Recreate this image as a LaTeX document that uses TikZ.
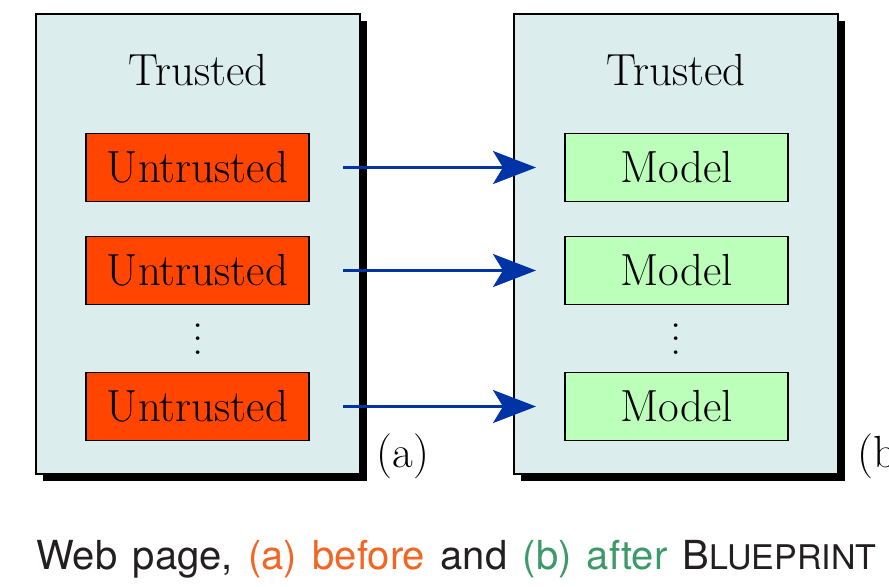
\documentclass[tikz,border=0pt]{standalone}
\usepackage{fontspec}
\newfontfamily\capfont{TeX Gyre Heros}
\usetikzlibrary{arrows.meta}
\definecolor{zoneblue}{RGB}{220,237,237}
\definecolor{untrustfill}{RGB}{255,69,0}
\definecolor{modelfill}{RGB}{187,255,187}
\definecolor{flowblue}{RGB}{0,51,165}
\definecolor{capgray}{RGB}{35,31,32}
\definecolor{caporange}{RGB}{242,101,34}
\definecolor{capgreen}{RGB}{60,154,106}
% vertical ellipsis with wider dot spacing
\newcommand{\tallvdots}{\vbox{\baselineskip=6.8pt\lineskiplimit=0pt\hbox{.}\hbox{.}\hbox{.}}}
\tikzset{
  zone/.style={draw=black, line width=0.8pt, fill=zoneblue},
  zoneshadow/.style={fill=black},
  innerbox/.style={draw=black, line width=0.8pt, minimum width=111.5pt, minimum height=34pt,
    inner sep=0pt, font=\fontsize{22.5}{27}\selectfont},
  untrusted/.style={innerbox, fill=untrustfill},
  modelbox/.style={innerbox, fill=modelfill},
  lbl/.style={font=\fontsize{22.5}{27}\selectfont, inner sep=0pt},
  flow/.style={draw=flowblue, line width=1.5pt, -{Stealth[length=21.5pt, width=16.5pt, inset=5pt]}}
}
\begin{document}
\begin{tikzpicture}[x=0.5pt, y=-0.5pt]
  \useasboundingbox (0,0) rectangle (889,586);
  % drop shadows and trust zones
  \fill[zoneshadow] (43,21) rectangle (367,481);
  \fill[zoneshadow] (521,21) rectangle (845,481);
  \draw[zone] (36,14) rectangle (360,474);
  \draw[zone] (514,14) rectangle (838,474);
  \node[lbl] (trA) at (198,70) {Trusted};
  \node[lbl] (trB) at (676,70) {Trusted};
  % untrusted components
  \node[untrusted] (u1) at (197.5,167.5) {Untrusted};
  \node[untrusted] (u2) at (197.5,270.5) {Untrusted};
  \node[untrusted] (u3) at (197.5,406.5) {Untrusted};
  \node[lbl] (dA) at (198,339) {\tallvdots};
  % modelled components
  \node[modelbox] (m1) at (676.5,167.5) {Model};
  \node[modelbox] (m2) at (676.5,270.5) {Model};
  \node[modelbox] (m3) at (676.5,406.5) {Model};
  \node[lbl] (dB) at (676,339) {\tallvdots};
  % arrow tails sit outside the left zone
  \coordinate (s1) at (343,167.5);
  \coordinate (s2) at (343,270.5);
  \coordinate (s3) at (343,406.5);
  \coordinate (e1) at (536,167.5);
  \coordinate (e2) at (536,270.5);
  \coordinate (e3) at (536,406.5);
  \draw[flow] (s1) -- (e1);
  \draw[flow] (s2) -- (e2);
  \draw[flow] (s3) -- (e3);
  % sub-figure tags
  \node[lbl] (ta) at (403,456) {(a)};
  \node[lbl, anchor=west] (tb) at (857,456) {(b)};
  % caption
  \node[anchor=base west, inner sep=0pt, text=capgray,
        font=\capfont\fontsize{20}{24}\selectfont] (cap) at (36,569)
    {\spaceskip=7.7pt\relax Web page, \textcolor{caporange}{(a) before} and \textcolor{capgreen}{(b) after} B{\fontsize{17}{20}\selectfont LUEPRINT}};
\end{tikzpicture}
\end{document}
